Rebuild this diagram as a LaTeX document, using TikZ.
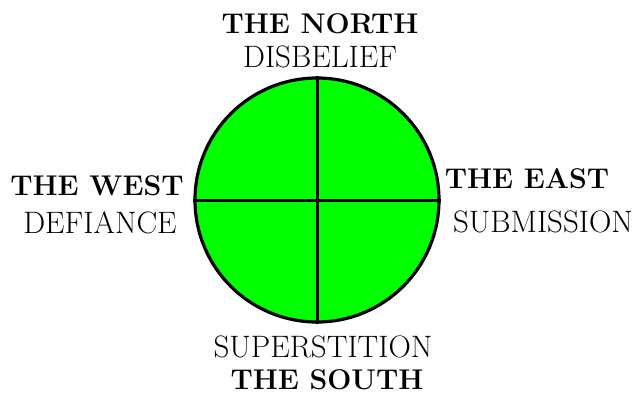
\documentclass[tikz,border=0pt]{standalone}
\usepackage{tikz}
\usetikzlibrary{positioning}
\definecolor{brightgreen}{RGB}{0, 255, 0}

\begin{document}
\begin{tikzpicture}[
    x=1pt, y=-1pt,
    every node/.style={inner sep=0pt, anchor=base},
    quarter/.style={font=\fontsize{28.5}{30}\selectfont\bfseries},
    virtue/.style={font=\fontsize{31}{32}\selectfont},
    wheel/.style={circle, minimum size=244pt, draw=black, fill=brightgreen, line width=3.2pt},
    spoke/.style={line width=3pt}
]
\useasboundingbox (0,0) rectangle (643,394);

% The wheel
\node[wheel, anchor=center] (disc) at (317,200) {};
\draw[spoke] (disc.north) -- (disc.south);
\draw[spoke] (disc.west) -- (disc.east);

% Directions
\node[quarter] (north) at (320,33) {THE NORTH};
\node[virtue] (disbelief) at (320,67) {DISBELIEF};
\node[quarter] (west) at (97,195) {THE WEST};
\node[virtue] (defiance) at (100,233) {DEFIANCE};
\node[quarter] (east) at (527,188) {THE EAST};
\node[virtue] (submission) at (543,232) {SUBMISSION};
\node[virtue] (superstition) at (323,357) {SUPERSTITION};
\node[quarter] (south) at (327,389) {THE SOUTH};

\end{tikzpicture}
\end{document}
